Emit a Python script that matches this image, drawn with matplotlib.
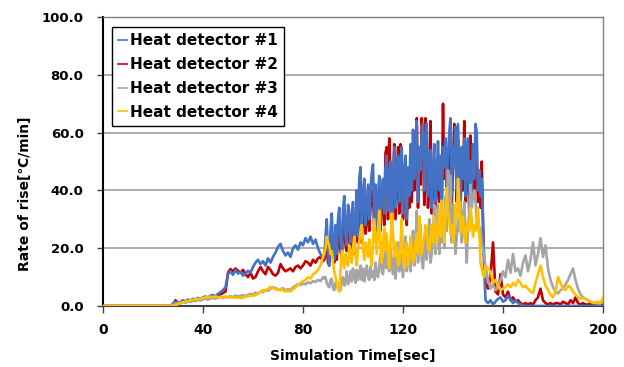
import matplotlib
matplotlib.use("Agg")
import matplotlib.pyplot as plt
import numpy as np

# sample times: 1 s steps early/late, 0.5 s steps in the fluctuating phase
t_early = list(range(0, 89))
t_mid = list(np.arange(88.5, 153.01, 0.5))
t_late = list(range(154, 201))
time_sec = t_early + t_mid + t_late

hd1_early = ([0]*20 +
    [0,0,0,0,0,0,0,0,0.8,1.5] +
    [1.0,1.4,2.0,1.6,2.2,1.9,2.5,2.1,2.8,2.4] +
    [3.0,3.3,2.9,3.6,3.8,3.4,4.2,4.8,5.5,6.5] +
    [11.0,12.0,10.8,12.5,11.2,11.8,10.5,11.2,12.2,11.5] +
    [13.5,15.0,16.0,14.5,15.5,14.0,16.5,15.0,17.0,18.5] +
    [20.5,21.5,19.0,17.5,18.5,17.0,20.0,21.0,19.5,22.0] +
    [21.0,23.5,22.0,24.0,21.5,23.0,20.0,18.0,16.5])
hd1_mid = [17,24,30,18,14,26,32,20,16,28,
    18,30,34,22,19,33,38,24,21,35,
    33,22,30,36,20,28,40,24,44,48,
    26,38,44,28,35,42,30,40,46,49,
    30,42,27,38,45,29,40,44,32,48,
    52,33,46,50,30,44,55,34,48,52,
    36,50,55,32,46,52,30,48,38,56,
    40,61,44,58,64,36,55,47,60,63,
    40,58,63,38,50,54,34,48,56,36,
    45,57,40,52,35,55,48,58,42,52,
    60,65,38,55,48,62,40,63,50,36,
    55,44,58,38,52,58,35,50,40,56,
    44,63,60,40,47,38,44,30,12,2]
hd1_late = ([1,2,0.5,1.5,2.5,3] +
    [1.5,2,3.5,2.5,1,2,1,0.5,0,0] + [0]*31)

hd2_early = ([0]*20 +
    [0,0,0,0,0,0,0,0,0.5,2.0] +
    [1.0,1.2,1.6,1.3,2.0,1.8,2.2,2.0,2.6,2.3] +
    [2.8,3.0,2.7,3.3,3.5,3.2,3.8,4.0,4.5,5.0] +
    [11.5,12.8,12.0,13.0,12.2,11.5,12.5,11.0,10.0,11.5] +
    [9.5,10.0,12.0,13.5,12.0,11.0,13.5,12.5,11.0,10.5] +
    [11.5,14.5,13.0,12.0,12.5,13.0,12.0,13.5,14.0,13.0] +
    [14.0,15.5,15.0,14.0,16.0,15.0,16.5,17.0,15.5])
hd2_mid = [16,18,20,15,14,22,24,17,15,20,
    16,24,27,19,17,26,30,21,19,28,
    26,20,24,30,18,25,34,22,36,38,
    22,32,36,25,30,35,26,34,38,40,
    26,36,24,33,38,26,36,40,28,53,
    55,30,58,45,28,40,56,30,42,55,
    32,56,47,30,40,45,28,42,34,48,
    36,52,40,50,65,34,48,42,65,58,
    35,65,55,34,44,64,32,42,50,34,
    40,50,36,46,32,70,44,52,38,46,
    52,56,34,48,63,55,36,54,44,34,
    48,40,64,36,46,50,32,59,36,48,
    40,52,50,36,42,34,50,28,15,8]
hd2_late = ([6,10,22,5,4,11] +
    [4,3,5,2,3,1.5,2,1,0.5,1] +
    [0.5,1,0.5,2,3,6,2,1,0.5,1] +
    [0.5,1,1,0.5,1.5,1,0.5,2,1,3] +
    [1,0.5,1,0.5,0.5,1,0.5,1,0.5,0.5] + [0.5])

hd3_early = ([0]*20 +
    [0,0,0,0,0,0,0,0,0.3,0.8] +
    [0.6,1.0,1.3,1.1,1.6,1.4,1.8,1.7,2.1,1.9] +
    [2.3,2.5,2.2,2.6,2.8,2.5,2.9,3.1,2.8,3.2] +
    [3.0,3.4,3.1,3.6,3.3,3.5,3.8,3.4,3.9,4.2] +
    [4.0,4.6,4.3,5.0,4.8,5.5,5.2,6.0,6.5,6.2] +
    [5.8,5.5,6.2,5.4,5.8,5.5,6.5,7.0,7.6,7.2] +
    [7.8,7.5,8.2,7.9,8.6,8.3,9.0,8.6,10.0])
hd3_mid = [9.5,10,8,7,6.5,9,9.5,6,5.5,8,
    7,6,8,5.5,9,10,7,8.5,12,7.5,
    9,12,8.5,13,10,8,12.5,9,11,14,
    9,13,8.5,12,14,10,9,13.5,10,12,
    9,15,11,10,14,18,12,11,16,20,
    13,17,12,20,15,11,17,9.5,14,22,
    12,18,14,10,16,24,12,15,20,12,
    18,26,14,20,33,15,22,28,16,13,
    20,25,16,22,30,15,18,24,35,18,
    25,35,18,28,22,30,20,38,26,47,
    32,45,22,35,30,18,24,30,26,36,
    22,30,36,26,15,28,32,42,34,38,
    40,36,30,28,25,27,22,20,17,14]
hd3_late = ([9.0,6.0,7.5,5.5,6.5,9.0] +
    [12.0,10.0,16.0,11.5,18.0,12.0,13.0,10.5,15.0,17.5] +
    [12.0,16.0,22.0,14.0,18.0,23.5,17.0,21.0,13.0,9.0] +
    [6.5,5.0,4.3,5.5,6.0,7.5,9.0,11.0,13.0,9.0] +
    [6.0,4.0,3.0,2.5,2.0,1.5,1.0,1.2,0.8,1.0] + [1.5])

hd4_early = ([0]*20 +
    [0,0,0,0,0,0,0,0,0,0.3] +
    [0.8,1.0,1.3,1.5,1.7,2.0,2.1,2.3,2.4,2.6] +
    [2.8,3.0,3.0,3.2,3.1,3.3,3.0,3.2,3.1,3.3] +
    [3.0,2.9,3.1,2.8,3.0,2.7,2.9,3.2,3.4,3.6] +
    [3.5,3.8,4.2,4.8,5.5,5.2,6.0,6.6,6.2,5.8] +
    [5.5,6.0,5.4,5.0,5.2,5.0,5.8,6.5,7.2,8.0] +
    [8.6,9.0,10.0,9.5,11.0,11.5,12.5,14.0,17.0])
hd4_mid = [18,20,24,22,21,18,19,15,12,10,
    8,6,5,12,19,16,13,18,17,14,
    21,17,15,20,24,18,14,20,22,26,
    28,20,16,22,20,17,23,18,14,22,
    30,24,18,26,33,20,15,22,27,19,
    25,18,13,22,32,25,17,22,20,14,
    15,22,30,18,13,20,22,14,16,24,
    20,15,16,22,25,18,31,24,18,22,
    24,28,26,20,19,24,28,22,31,26,
    21,28,33,24,36.5,28,22,30,41,32,
    30,25,28,22,26,35,30,44,36,25,
    28,31,24,22,27,29,26,34,30,24,
    28,26,30,34,26,15,13,11,10,14]
hd4_late = ([13.0,12.0,8.0,9.0,7.0,5.5] +
    [6.0,6.5,7.5,6.5,8.0,7.0,9.0,8.0,6.5,7.0] +
    [6.0,5.0,4.5,8.0,11.0,14.0,10.0,7.0,5.5,4.0] +
    [3.0,5.0,10.0,8.0,6.0,5.5,7.0,6.5,5.0,4.0] +
    [3.0,2.5,2.8,2.5,2.0,1.5,1.2,1.0,1.5,1.0] + [3.0])

hd1 = hd1_early + hd1_mid + hd1_late
hd2 = hd2_early + hd2_mid + hd2_late
hd3 = hd3_early + hd3_mid + hd3_late
hd4 = hd4_early + hd4_mid + hd4_late

labels = ["Heat detector #1", "Heat detector #2", "Heat detector #3", "Heat detector #4"]
colors = ["#4472C4", "#C00000", "#A5A5A5", "#FFC000"]
x_ticks = [0, 40, 80, 120, 160, 200]
y_ticks = [0, 20, 40, 60, 80, 100]

fig = plt.figure(figsize=(6.24, 3.67), dpi=100)
ax = fig.add_axes([103/624, 1-306/367, 500/624, 289/367])
ax.set_xlim(0, 200)
ax.set_ylim(0, 100)

# horizontal gridlines at the inner y ticks
for yv in y_ticks[1:-1]:
    ax.plot([x_ticks[0], x_ticks[-1]], [yv, yv], color="#9E9E9E", linewidth=1.2,
            zorder=1.5, solid_capstyle='butt')

series = [hd1, hd2, hd3, hd4]
zorders = [3, 2, 4, 5]
handles = []
for s, lab, c, z in zip(series, labels, colors, zorders):
    ln, = ax.plot(time_sec, s, color=c, lw=1.9, label=lab, zorder=z)
    handles.append(ln)

ax.set_xticks(x_ticks)
ax.set_yticks(y_ticks)
ax.set_xticklabels([str(v) for v in x_ticks], fontweight='bold', fontsize=10)
ax.set_yticklabels([f"{v:.1f}" for v in y_ticks], fontweight='bold', fontsize=9.5)
ax.tick_params(axis='x', direction='out', length=5, width=1, color='#404040', pad=7)
ax.tick_params(axis='y', direction='out', length=4, width=1, color='#404040', pad=10)

for side in ['top', 'right']:
    ax.spines[side].set_color('#808080')
    ax.spines[side].set_linewidth(1.0)
ax.spines['left'].set_color('black')
ax.spines['left'].set_linewidth(1.5)
ax.spines['bottom'].set_color('#404040')
ax.spines['bottom'].set_linewidth(1.5)

ax.set_xlabel("Simulation Time[sec]", fontweight='bold', fontsize=10, labelpad=9)
ax.set_ylabel("Rate of rise[℃/min]", fontweight='bold', fontsize=10)
ax.yaxis.set_label_coords(-0.142, 0.39)

leg = ax.legend(handles=handles, loc='upper left', bbox_to_anchor=(0.018, 0.965), borderaxespad=0,
                prop={'weight': 'bold', 'size': 11}, handlelength=0.6, handletextpad=0.15,
                labelspacing=0.58, fancybox=False, framealpha=1, edgecolor='black',
                borderpad=0.4)
leg.set_zorder(10)
leg.get_frame().set_linewidth(1.0)
for h in leg.get_lines():
    h.set_linewidth(1.2)

fig.savefig("out.png", dpi=100)
